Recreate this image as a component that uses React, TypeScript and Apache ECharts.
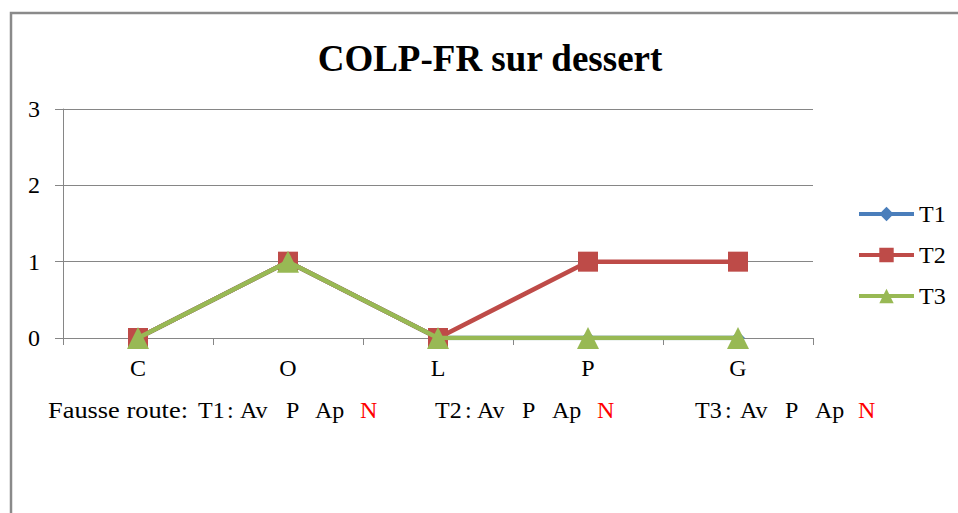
import React, { useEffect, useRef } from "react";
import * as echarts from "echarts";

const TITLE = "COLP-FR sur dessert";
const CATEGORIES = ["C", "O", "L", "P", "G"];
const SERIES_NAMES = ["T1", "T2", "T3"];
const T1 = [0, 1, 0, 0, 0];
const T2 = [0, 1, 0, 1, 1];
const T3 = [0, 1, 0, 0, 0];
const Y_MIN = 0;
const Y_MAX = 3;
const Y_INTERVAL = 1;
const NOTE_LEAD = "Fausse route:";
const NOTE_TRIALS = ["T1", "T2", "T3"];
const NOTE_WORDS = ["Av", "P", "Ap"];
const NOTE_MARK = "N";

const FONT = "Liberation Serif";

export default function App() {
  const ref = useRef<HTMLDivElement>(null);
  useEffect(() => {
    if (!ref.current) return;
    const chart = echarts.init(ref.current, null, { renderer: "svg" });

    const noteY = 410;
    const noteFont = 24;
    const trialX = [198, 435, 695];
    const colonX = [227, 465, 725];
    const wordX = [
      [240, 286, 315],
      [477, 522, 552],
      [740, 785, 815],
    ];
    const markX = [360, 597, 858];
    const txt = (s: string, x: number, color = "#000", extra: any = {}) => ({
      type: "text",
      x,
      y: noteY,
      style: {
        text: s,
        fontFamily: FONT,
        fontSize: noteFont,
        fill: color,
        verticalAlign: "middle",
        align: "left",
      },
      ...extra,
    });
    const notes: any[] = [txt(NOTE_LEAD, 48, "#000", { scaleX: 1.1, originX: 0 })];
    NOTE_TRIALS.forEach((t, i) => {
      notes.push(txt(t, trialX[i]));
      notes.push(txt(":", colonX[i]));
      NOTE_WORDS.forEach((w, j) => notes.push(txt(w, wordX[i][j])));
      notes.push(txt(NOTE_MARK, markX[i], "#FF0000"));
    });

    const colors = ["#4A7EBB", "#BE4B48", "#98B954"];
    const data = [T1, T2, T3];
    const symbols = ["diamond", "rect", "triangle"];
    const sizes = [14, 20, 22];

    chart.setOption({
      animation: false,
      title: {
        text: TITLE,
        left: 485,
        top: 53,
        textAlign: "center",
        textVerticalAlign: "middle",
        textStyle: { fontFamily: FONT, fontSize: 37, fontWeight: "bold", color: "#000" },
      },
      legend: {
        orient: "vertical",
        left: 852,
        top: 197,
        itemWidth: 55,
        itemHeight: 18,
        itemGap: 17,
        lineStyle: { width: 4 },
        textStyle: { fontFamily: FONT, fontSize: 24, color: "#000", lineHeight: 20 },
        data: SERIES_NAMES,
      },
      grid: { left: 63, right: 145, top: 109, bottom: 175, containLabel: false },
      xAxis: {
        type: "category",
        data: CATEGORIES,
        boundaryGap: true,
        axisLine: { lineStyle: { color: "#868686", width: 1 } },
        axisTick: { show: true, length: 7, lineStyle: { color: "#868686" } },
        axisLabel: { fontFamily: FONT, fontSize: 24, color: "#000", margin: 18 },
      },
      yAxis: {
        type: "value",
        min: Y_MIN,
        max: Y_MAX,
        interval: Y_INTERVAL,
        axisLine: { show: true, lineStyle: { color: "#868686", width: 1 } },
        axisTick: { show: true, length: 8, lineStyle: { color: "#868686" } },
        splitLine: { lineStyle: { color: "#868686", width: 1 } },
        axisLabel: { fontFamily: FONT, fontSize: 24, color: "#000", margin: 23 },
      },
      series: SERIES_NAMES.map((name, i) => ({
        name,
        type: "line",
        data: data[i],
        symbol: symbols[i],
        symbolSize: sizes[i],
        showSymbol: true,
        lineStyle: { color: colors[i], width: 4.5 },
        itemStyle: { color: colors[i] },
        z: 2 + i,
      })),
      graphic: [
        {
          type: "rect",
          shape: { x: 11, y: 13, width: 1000, height: 600 },
          style: { fill: "none", stroke: "#8A8A8A", lineWidth: 2.5 },
          silent: true,
        },
        ...notes,
      ],
    });
    return () => chart.dispose();
  }, []);
  return (
    <div
      ref={ref}
      style={{ position: "absolute", left: 0, top: 0, width: 958, height: 513, background: "#fff" }}
    />
  );
}
